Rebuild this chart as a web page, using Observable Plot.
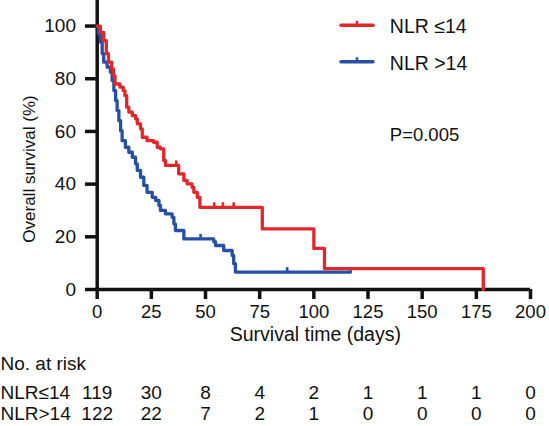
<!DOCTYPE html>
<html><head><meta charset="utf-8">
<script src="https://cdn.jsdelivr.net/npm/d3@7"></script>
<script src="https://cdn.jsdelivr.net/npm/@observablehq/plot@0.6"></script>
<style>
body{margin:0;background:#fff;}
#wrap{position:relative;width:549px;height:426px;}
</style></head><body><div id="wrap"></div>
<script>
// ---- data ----
const timeTicks = [0, 25, 50, 75, 100, 125, 150, 175, 200];
const survTicks = [0, 20, 40, 60, 80, 100];
const seriesNames = ["NLR ≤14", "NLR >14"];
const tableNames = ["NLR≤14", "NLR>14"];
const tableTitle = "No. at risk";
const xTitle = "Survival time (days)";
const yTitle = "Overall survival (%)";
const pText = "P=0.005";

// NLR ≤14 (red) Kaplan–Meier steps
const lowTime = [0, 1.5, 3, 4.2, 5.2, 6.7, 7.5, 8.2, 10.5, 12, 12.8, 13.6, 14.6, 16.2, 17.7, 18.5, 20, 20.8, 23, 26, 27.7, 29.2, 30.7, 31.5, 37.6, 40, 41.5, 43.8, 44.6, 46.2, 47.4, 76.2, 100, 104.9, 178.2];
const lowSurv = [100, 97.6, 94.5, 89.5, 86.3, 83.7, 81.2, 78, 76.8, 75.5, 73.6, 69.2, 67.3, 66, 64.8, 62.9, 61, 57.8, 56.5, 55.9, 54, 53.4, 49, 47.1, 43.9, 41.4, 40.1, 38.8, 36.9, 35, 31.2, 23.0, 15.6, 7.9, 0];
const lowCensorTime = [36.5, 54, 58, 63];
const lowCensorSurv = [47.1, 31.2, 31.2, 31.2];

// NLR >14 (blue) Kaplan–Meier steps
const highTime = [0, 0.6, 1.5, 2.3, 3, 4.6, 6.1, 6.9, 7.7, 8.5, 9.2, 10, 10.8, 11.5, 13, 14.6, 16.2, 17.7, 18.5, 20, 21.5, 23, 25.4, 27, 28.5, 29.2, 31.5, 34.6, 35.4, 36.1, 40, 53.8, 54.6, 58.4, 62.3, 63, 63.8, 116.9];
const highSurv = [100, 97, 93.9, 89.5, 86.3, 84.4, 82.5, 79.3, 75.5, 71.7, 67.9, 64.1, 60.3, 56.5, 54, 52.1, 50.2, 47.7, 45.2, 42.6, 39.5, 36.9, 35, 33.8, 31.9, 30, 28.7, 27.4, 24.9, 22.4, 19.2, 18.2, 16.7, 14.8, 12.9, 9.8, 6.6, 6.6];
const highCensorTime = [47.7, 87.7, 116.9];
const highCensorSurv = [19.2, 6.6, 6.6];

// numbers at risk
const riskTimes = [0, 25, 50, 75, 100, 125, 150, 175, 200];
const riskLow = [119, 30, 8, 4, 2, 1, 1, 1, 0];
const riskHigh = [122, 22, 7, 2, 1, 0, 0, 0, 0];

// ---- build ----
const RED = "#e3262a", BLUE = "#2550a4", INK = "#111";
const FONT = "'Liberation Sans', Arial, Helvetica, sans-serif";
const lowData = lowTime.map((t, i) => ({t, s: lowSurv[i]}));
const highData = highTime.map((t, i) => ({t, s: highSurv[i]}));
const lowCens = lowCensorTime.map((t, i) => ({t, s: lowCensorSurv[i]}));
const highCens = highCensorTime.map((t, i) => ({t, s: highCensorSurv[i]}));
const riskRows = [riskLow, riskHigh];

const ML = 96.7, MB = 137;
const legendY = [25.3, 61.8];

function legendSwatches(index, scales, values, dims) {
  const g = d3.create("svg:g");
  const cols = [RED, BLUE];
  cols.forEach((c, i) => {
    g.append("line").attr("x1", 341).attr("x2", 373).attr("y1", legendY[i]).attr("y2", legendY[i])
      .attr("stroke", c).attr("stroke-width", 3.4).attr("stroke-linecap", "round");
    g.append("line").attr("x1", 357).attr("x2", 357).attr("y1", legendY[i]).attr("y2", legendY[i] - 4.5)
      .attr("stroke", c).attr("stroke-width", 2.6);
  });
  return g.node();
}

const txt = (s, o) => Plot.text([s], {fill: INK, ...o});

const chart = Plot.plot({
  width: 549, height: 426,
  marginLeft: ML, marginRight: 19, marginTop: 0, marginBottom: MB,
  style: {fontFamily: FONT, color: INK, background: "white", overflow: "visible"},
  x: {domain: [0, 200]},
  y: {domain: [0, 109.7]},
  marks: [
    Plot.axisY({ticks: survTicks, tickSize: 11.7, tickPadding: 9.5, strokeWidth: 3.5, fontSize: 19, label: null, stroke: INK}),
    Plot.axisX({ticks: timeTicks, tickSize: 10, tickPadding: 5, strokeWidth: 3.5, fontSize: 18.5, label: null, stroke: INK}),
    Plot.ruleX([0], {stroke: INK, strokeWidth: 3.5}),
    Plot.ruleY([0], {stroke: INK, strokeWidth: 3.5}),
    Plot.line(highData, {x: "t", y: "s", curve: "step-after", stroke: BLUE, strokeWidth: 3.3}),
    Plot.ruleX(highCens, {x: "t", y1: "s", y2: d => d.s + 1.7, stroke: BLUE, strokeWidth: 2.6}),
    Plot.line(lowData, {x: "t", y: "s", curve: "step-after", stroke: RED, strokeWidth: 3.3}),
    Plot.ruleX(lowCens, {x: "t", y1: "s", y2: d => d.s + 1.7, stroke: RED, strokeWidth: 2.6}),
    // axis titles
    txt(yTitle, {frameAnchor: "left", textAnchor: "middle", rotate: -90, dx: -67.5, dy: 24, fontSize: 17}),
    txt(xTitle, {frameAnchor: "bottom", dx: 1.5, dy: 51.5, lineAnchor: "bottom", fontSize: 19.5}),
    // legend + p value
    legendSwatches,
    txt(seriesNames[0], {frameAnchor: "top-left", dx: 389.3 - ML, dy: legendY[0] + 7.5, lineAnchor: "bottom", textAnchor: "start", fontSize: 19.5}),
    txt(seriesNames[1], {frameAnchor: "top-left", dx: 389.3 - ML, dy: legendY[1] + 7.5, lineAnchor: "bottom", textAnchor: "start", fontSize: 19.5}),
    txt(pText, {frameAnchor: "top-left", dx: 389.3 - ML, dy: 140, lineAnchor: "bottom", textAnchor: "start", fontSize: 18.5}),
    // risk table
    txt(tableTitle, {frameAnchor: "bottom-left", dx: -ML, dy: 80, lineAnchor: "bottom", textAnchor: "start", fontSize: 19}),
    txt(tableNames[0], {frameAnchor: "bottom-left", dx: -ML, dy: 109.5, lineAnchor: "bottom", textAnchor: "start", fontSize: 19}),
    txt(tableNames[1], {frameAnchor: "bottom-left", dx: -ML, dy: 130, lineAnchor: "bottom", textAnchor: "start", fontSize: 19}),
    Plot.text(riskTimes, {x: d => d, text: (d, i) => riskRows[0][i], frameAnchor: "bottom", dy: 109.5, lineAnchor: "bottom", fontSize: 19, fill: INK}),
    Plot.text(riskTimes, {x: d => d, text: (d, i) => riskRows[1][i], frameAnchor: "bottom", dy: 130, lineAnchor: "bottom", fontSize: 19, fill: INK})
  ]
});
document.getElementById("wrap").append(chart);
</script>
</body></html>
